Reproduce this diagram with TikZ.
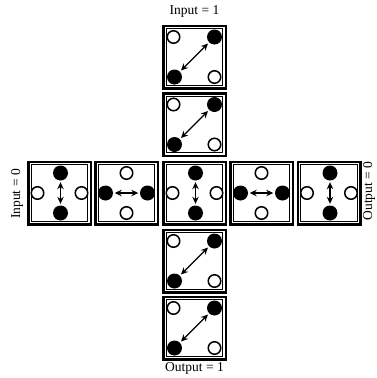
\documentclass[tikz,border=0pt]{standalone}
\usepackage{fontspec}
\setmainfont{Liberation Serif}
\usetikzlibrary{arrows.meta}
\begin{document}
\begin{tikzpicture}[x=1pt,y=-1pt,
  cell/.style={draw, line width=2.5pt, minimum width=62.5pt, minimum height=62.5pt, inner sep=0pt, outer sep=0pt},
  incell/.style={draw, line width=1pt, minimum width=56.5pt, minimum height=56.5pt, inner sep=0pt},
  full/.style={circle, fill=black, minimum size=15pt, inner sep=0pt},
  hollow/.style={circle, draw=black, line width=1.5pt, fill=white, minimum size=12.5pt, inner sep=0pt},
  swap/.style={{Stealth[length=7pt,width=6.5pt]}-{Stealth[length=7pt,width=6.5pt]}, line width=1.4pt, shorten <=1.5pt, shorten >=1.5pt},
  lab/.style={font=\fontsize{13.5}{16}\selectfont, inner sep=0pt}]
\useasboundingbox (0,0) rectangle (376,378);
% diagonal cells in the column
\foreach \n/\y in {c1/57, c2/124.5, c4/261, c5/328}{
  \node[cell] (\n) at (194.5,\y) {};
  \node[incell] (\n i) at (194.5,\y) {};
  \node[hollow] (\n tl) at (194.5-21,\y-20) {};
  \node[full]   (\n tr) at (194.5+20,\y-20) {};
  \node[full]   (\n bl) at (194.5-20,\y+20) {};
  \node[hollow] (\n br) at (194.5+20,\y+20) {};
  \draw[swap] (\n bl) -- (\n tr);
}
% vertical-swap cells in the row
\foreach \n/\x in {r1/59.5, r3/194.5, r5/329}{
  \node[cell] (\n) at (\x,193) {};
  \node[incell] (\n i) at (\x,193) {};
  \node[full]   (\n t) at (\x+1,173) {};
  \node[full]   (\n b) at (\x+1,213) {};
  \node[hollow] (\n l) at (\x-22,193) {};
  \node[hollow] (\n r) at (\x+22,193) {};
  \draw[swap] (\n t) -- (\n b);
}
% horizontal-swap cells in the row
\foreach \n/\x in {r2/126.5, r4/261.5}{
  \node[cell] (\n) at (\x,193) {};
  \node[incell] (\n i) at (\x,193) {};
  \node[full]   (\n l) at (\x-21,193) {};
  \node[full]   (\n r) at (\x+21,193) {};
  \node[hollow] (\n t) at (\x,173) {};
  \node[hollow] (\n b) at (\x,213) {};
  \draw[swap] (\n l) -- (\n r);
}
\node[lab] (in1) at (194.5,11) {Input = 1};
\node[lab] (out1) at (194.5,368) {Output = 1};
\node[lab, rotate=90] (in0) at (17,194) {Input = 0};
\node[lab, rotate=90] (out0) at (369,191) {Output = 0};
\end{tikzpicture}
\end{document}
